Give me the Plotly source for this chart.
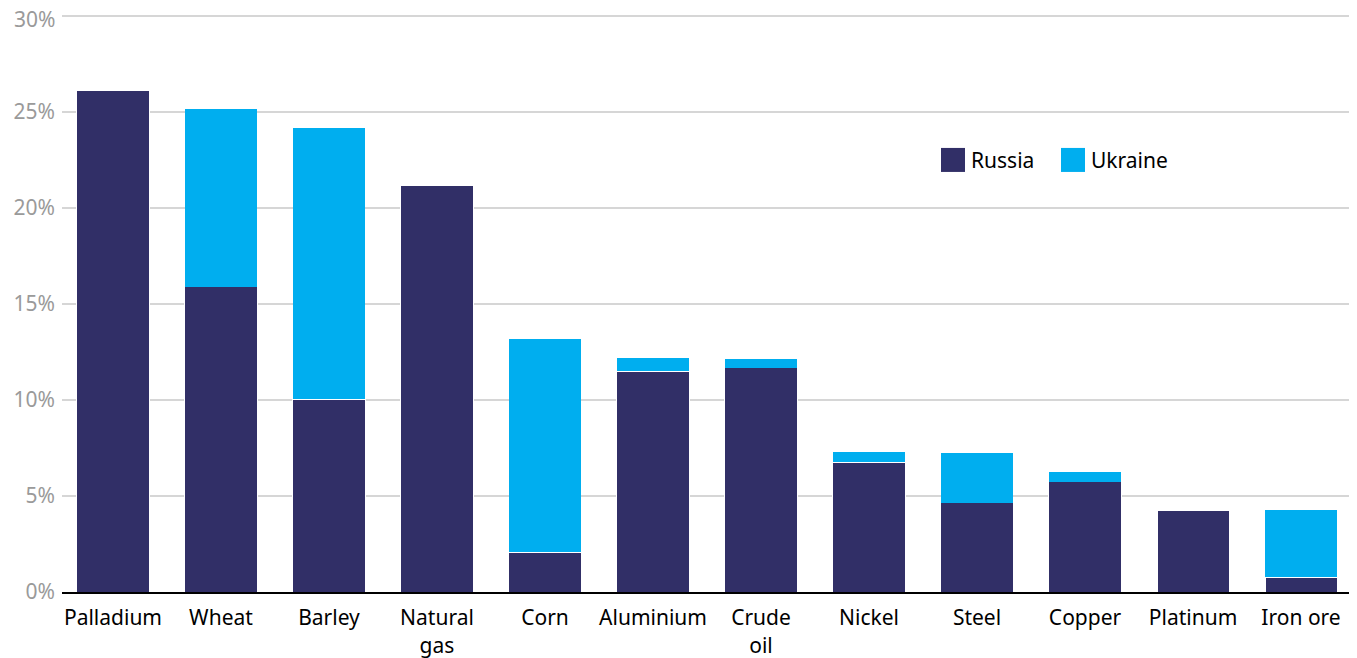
import plotly.graph_objects as go

categories = ["Palladium", "Wheat", "Barley", "Natural<br>gas", "Corn", "Aluminium",
              "Crude<br>oil", "Nickel", "Steel", "Copper", "Platinum", "Iron ore"]
russia = [26.1, 15.9, 10.05, 21.15, 2.08, 11.5, 11.67, 6.77, 4.64, 5.73, 4.22, 0.78]
ukraine = [0, 9.25, 14.1, 0, 11.1, 0.69, 0.47, 0.52, 2.6, 0.52, 0, 3.49]
y_ticks = [0, 5, 10, 15, 20, 25, 30]
y_tick_labels = ["0%", "5%", "10%", "15%", "20%", "25%", "30%"]
series_names = ["Russia", "Ukraine"]
series_colors = ["#312F67", "#00AEEF"]

FONT = "Noto Sans"
Y_MAX = 30.1
TICK_COLOR = "#9a9a9a"

fig = go.Figure()
fig.add_trace(go.Bar(x=categories, y=russia, name=series_names[0], showlegend=False, width=0.667,
                     marker=dict(color=series_colors[0], line=dict(color="white", width=1))))
fig.add_trace(go.Bar(x=categories, y=ukraine, name=series_names[1], showlegend=False, width=0.667,
                     marker=dict(color=series_colors[1], line=dict(color="white", width=0))))

# custom legend (large square swatches); screen-pixel geometry of plot area
L, W = 62, 1290
B, H = 592, 576 * Y_MAX / 30
def px_x(p): return (p - L) / W
def px_y(p): return (B - p) / H

shapes = []
annotations = []
for i, (nm, col) in enumerate(zip(series_names, series_colors)):
    sx = 941 + i * 120
    shapes.append(dict(type="rect", xref="paper", yref="paper",
                       x0=px_x(sx), x1=px_x(sx + 24), y0=px_y(172), y1=px_y(148),
                       fillcolor=col, line=dict(width=0)))
    annotations.append(dict(xref="paper", yref="paper", x=px_x(sx + 28), y=px_y(160),
                            xanchor="left", yanchor="middle", showarrow=False, text=nm,
                            font=dict(family=FONT, size=21, color="black")))

# top tick label drawn as an annotation, nudged down so it is not cut at the page edge
tick_text = y_tick_labels[:-1] + [""]
annotations.append(dict(xref="paper", yref="y", x=0, y=y_ticks[-1], xanchor="right",
                        yanchor="middle", xshift=-5, yshift=-3, showarrow=False,
                        text=y_tick_labels[-1], font=dict(family=FONT, size=21, color=TICK_COLOR)))

fig.update_layout(
    barmode="stack",
    width=1357, height=658,
    margin=dict(l=54, r=13, t=6, b=74, autoexpand=False),
    plot_bgcolor="white", paper_bgcolor="white",
    font=dict(family=FONT, size=21, color="black"),
    showlegend=False,
    shapes=shapes,
    annotations=annotations,
    xaxis=dict(showgrid=False, showline=True, linecolor="black", linewidth=2,
               range=[-0.472, 11.472],
               tickfont=dict(family=FONT, size=21, color="black"), ticks="",
               ticklabelstandoff=6,
               automargin=False, fixedrange=True, layer="above traces"),
    yaxis=dict(range=[0, Y_MAX], tickvals=y_ticks, ticktext=tick_text,
               showgrid=True, gridcolor="#d6d6d6", gridwidth=2, zeroline=False,
               tickfont=dict(family=FONT, size=21, color=TICK_COLOR), ticks="",
               ticklabeloverflow="allow",
               automargin=False, ticklabelstandoff=6),
)

fig.write_html("out.html")
